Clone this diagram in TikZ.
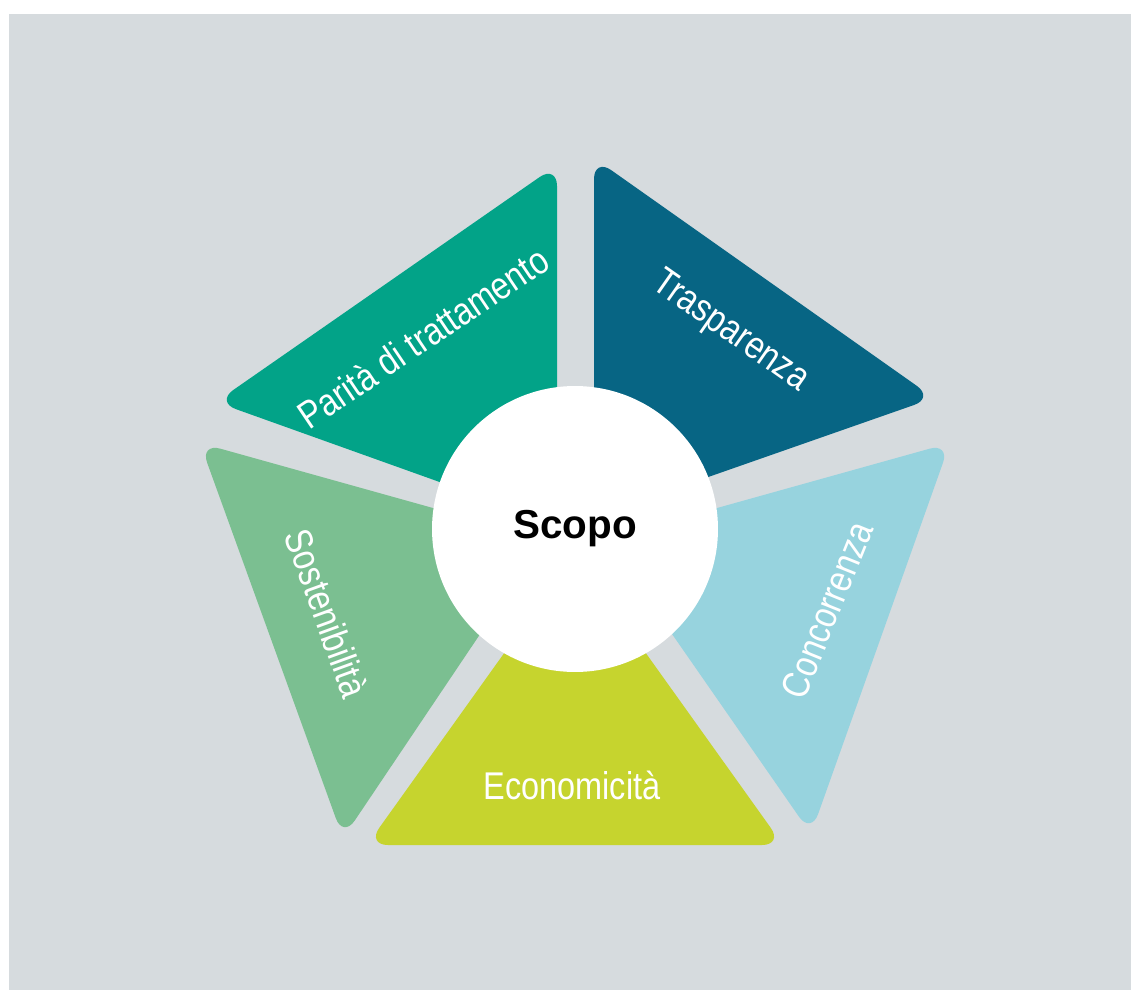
\documentclass[tikz,border=0pt]{standalone}
\usepackage{fontspec}
\setmainfont{Liberation Sans}
\newfontfamily\narrowfont[FakeStretch=0.84]{Liberation Sans}
\definecolor{bggray}{HTML}{D6DBDE}
\definecolor{parita}{HTML}{02A388}
\definecolor{traspa}{HTML}{076584}
\definecolor{concor}{HTML}{97D3DE}
\definecolor{econom}{HTML}{C6D42E}
\definecolor{sosten}{HTML}{7BBF91}

\begin{document}
\begin{tikzpicture}[x=0.02cm,y=-0.02cm,
  petal/.style={rounded corners=0.42cm},
  label node/.style={text=white,inner sep=0pt,font=\narrowfont\fontsize{22}{26}\selectfont},
  main node/.style={circle,fill=white,minimum size=5.72cm,inner sep=0pt,font=\bfseries\fontsize{23}{28}\selectfont}]

  \useasboundingbox (0,0) rectangle (1131,990);
  \fill[bggray] (9,14) rectangle (1131,990);

  % the five sectors
  \fill[parita,petal] (557,165) -- (216,402) -- (557,524) -- cycle;
  \fill[traspa,petal] (594,158) -- (934,398) -- (594,517) -- cycle;
  \fill[concor,petal] (950,443) -- (811,834) -- (606,539) -- cycle;
  \fill[econom,petal] (575,554) -- (783,845) -- (367,845) -- cycle;
  \fill[sosten,petal] (200,443) -- (544,539) -- (343,838) -- cycle;

  \node[main node] (scopo) at (575,529) {Scopo};

  \node[label node,rotate=34] (parita) at (423,337) {Parità di trattamento};
  \node[label node,rotate=-35] (traspa) at (730,332) {Trasparenza};
  \node[label node,rotate=68] (concor) at (827,610) {Concorrenza};
  \node[label node] (econom) at (572,785) {Economicità};
  \node[label node,rotate=-70] (sosten) at (327,613) {Sostenibilità};
\end{tikzpicture}
\end{document}
